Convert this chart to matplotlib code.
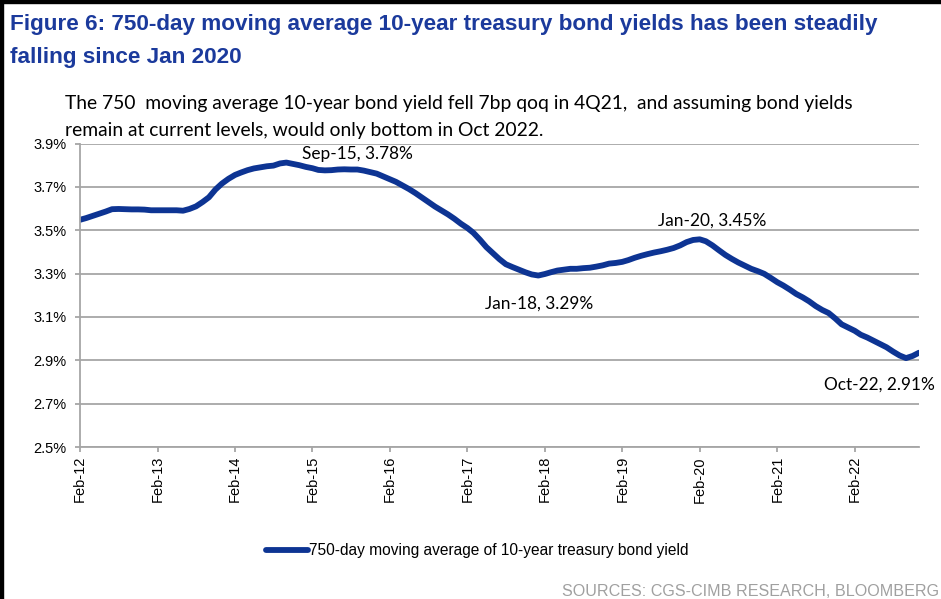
import matplotlib
matplotlib.use("Agg")
import matplotlib.pyplot as plt
import matplotlib.dates as mdates
import matplotlib.patches as patches
import pandas as pd

# monthly values, Feb-12 .. Dec-22 (750-day moving average, %)
start_month = "2012-02-01"
yields = [
    3.548, 3.556, 3.566, 3.576, 3.586, 3.597, 3.598, 3.597, 3.596, 3.596, 3.595, 3.592,
    3.592, 3.592, 3.592, 3.592, 3.590, 3.598, 3.610, 3.630, 3.652, 3.688, 3.715, 3.737,
    3.755, 3.766, 3.777, 3.785, 3.790, 3.795, 3.798, 3.808, 3.812, 3.806, 3.800, 3.792,
    3.786, 3.778, 3.776, 3.777, 3.780, 3.781, 3.780, 3.780, 3.775, 3.768, 3.761, 3.748,
    3.735, 3.723, 3.706, 3.690, 3.671, 3.651, 3.630, 3.609, 3.591, 3.573, 3.553, 3.530,
    3.510, 3.488, 3.456, 3.422, 3.394, 3.367, 3.343, 3.330, 3.318, 3.306, 3.296, 3.291,
    3.298, 3.306, 3.314, 3.318, 3.322, 3.322, 3.325, 3.327, 3.332, 3.338, 3.346, 3.349,
    3.354, 3.362, 3.373, 3.382, 3.390, 3.397, 3.403, 3.410, 3.418, 3.430, 3.445, 3.455,
    3.458, 3.449, 3.430, 3.408, 3.386, 3.368, 3.351, 3.336, 3.322, 3.311, 3.299, 3.280,
    3.260, 3.245, 3.226, 3.206, 3.190, 3.172, 3.150, 3.132, 3.118, 3.093, 3.066, 3.051,
    3.036, 3.018, 3.005, 2.990, 2.975, 2.960, 2.940, 2.922, 2.910, 2.920, 2.935,
]
dates = pd.date_range(start_month, periods=len(yields), freq="MS")

# data labels: (month, value text, offset in pixels)
callouts = [
    ("2015-09-01", "Sep-15, 3.78%", (0, 16)),
    ("2018-01-01", "Jan-18, 3.29%", (1, -28)),
    ("2020-01-01", "Jan-20, 3.45%", (19, 19)),
    ("2022-10-01", "Oct-22, 2.91%", (-27, -27)),
]

title = ("Figure 6: 750-day moving average 10-year treasury bond yields has been steadily\n"
         "falling since Jan 2020")
subtitle = ("The 750  moving average 10-year bond yield fell 7bp qoq in 4Q21,  and assuming bond yields\n"
            "remain at current levels, would only bottom in Oct 2022.")
series_name = "750-day moving average of 10-year treasury bond yield"
source = "SOURCES: CGS-CIMB RESEARCH, BLOOMBERG"

blue = "#0D3493"
grid_gray = "#A6A6A6"

fig = plt.figure(figsize=(9.41, 5.99), dpi=100)
ax = fig.add_axes([80 / 941, 1 - 447 / 599, 839 / 941, 303.5 / 599])

ax.plot(dates, yields, color=blue, lw=4.2, solid_capstyle="round", label=series_name)

ax.set_ylim(2.5, 3.9)
ax.set_yticks([2.5, 2.7, 2.9, 3.1, 3.3, 3.5, 3.7, 3.9])
ax.yaxis.set_major_formatter(plt.FuncFormatter(lambda v, p: f"{v:.1f}%"))
ax.set_xlim(dates[0], dates[-1])
ax.xaxis.set_major_locator(mdates.MonthLocator(bymonth=2))
ax.xaxis.set_major_formatter(mdates.DateFormatter("%b-%y"))

ax.grid(axis="y", color=grid_gray, lw=1.3)
ax.set_axisbelow(True)
for s in ["top", "right"]:
    ax.spines[s].set_visible(False)
for s in ["left", "bottom"]:
    ax.spines[s].set_color(grid_gray)
    ax.spines[s].set_linewidth(1.3)
ax.tick_params(axis="both", colors=grid_gray, length=3.5, width=1.3,
               labelcolor="black", labelsize=10.5)
ax.tick_params(axis="y", pad=6)
ax.tick_params(axis="x", pad=3)
for lab in ax.get_xticklabels():
    lab.set_fontfamily("Liberation Sans")
    lab.set_rotation(90)
for lab in ax.get_yticklabels():
    lab.set_fontfamily("Liberation Sans")

for d, txt, off in callouts:
    dt = pd.Timestamp(d)
    val = yields[list(dates).index(dt)]
    ax.annotate(txt, (dt, val), xytext=off, textcoords="offset pixels",
                ha="center", va="center", fontsize=12.4, family="Lato",
                annotation_clip=False)

fig.text(10 / 941, 1 - 14 / 599, title, ha="left", va="top", color="#1B3A9C",
         fontsize=16.2, fontweight="bold", family="Liberation Sans",
         linespacing=1.75)
fig.text(65 / 941, 1 - 95 / 599, subtitle, ha="left", va="top", color="black",
         fontsize=13.9, family="Lato", linespacing=1.68)

fig.legend(loc="center", bbox_to_anchor=(477 / 941, 1 - 551 / 599), frameon=False,
           handlelength=2.7, handletextpad=0.05,
           prop={"family": "Liberation Sans", "size": 11.2})

fig.text(939 / 941, 3 / 599, source, ha="right", va="baseline", color="#A0A0A0",
         fontsize=11.6, family="Liberation Sans")

# black frame edges from the original screenshot
fig.patches.append(patches.Rectangle((0, 0), 3 / 941, 1, transform=fig.transFigure,
                                     color="black", zorder=10))
fig.patches.append(patches.Rectangle((0, 1 - 3 / 599), 1, 3 / 599, transform=fig.transFigure,
                                     color="black", zorder=10))

fig.savefig("out.png", dpi=100)
